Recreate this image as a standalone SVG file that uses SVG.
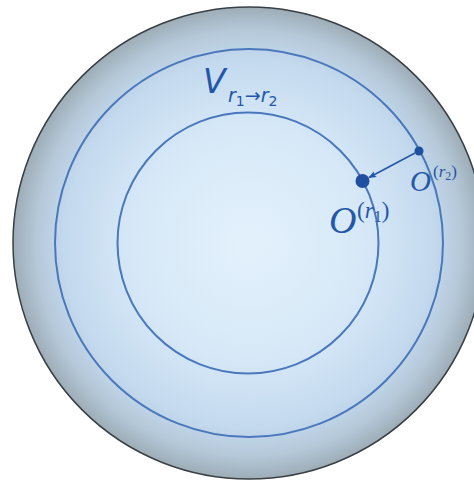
<svg xmlns="http://www.w3.org/2000/svg" width="474" height="480" viewBox="0 0 474 480">
<defs>
<radialGradient id="sph" gradientUnits="userSpaceOnUse" cx="249" cy="243" r="237">
<stop offset="0" stop-color="#e3f1fc"/>
<stop offset="0.5" stop-color="#d6e8f7"/>
<stop offset="0.78" stop-color="#c3d9ee"/>
<stop offset="0.9" stop-color="#b5c8d8"/>
<stop offset="1" stop-color="#9cacb6"/>
</radialGradient>
<marker id="ah" viewBox="0 0 10 10" refX="9" refY="5" markerWidth="9" markerHeight="8" orient="auto" markerUnits="userSpaceOnUse">
<path d="M0,1 L10,5 L0,9 L2,5 z" fill="#2457a8"/>
</marker>
<style>
.ring{fill:none;stroke:#4a78bd;stroke-width:2}
.lbl{fill:#2457a8}
.m{font-family:"Liberation Serif",serif;font-style:italic}
.s{font-family:"DejaVu Sans",sans-serif}
</style>
</defs>
<rect width="474" height="480" fill="#ffffff"/>
<g id="sphere">
<circle cx="249" cy="243" r="236" fill="url(#sph)" stroke="#3a3f44" stroke-width="1.5"/>
</g>
<g id="middle">
<circle class="ring" cx="249" cy="243" r="194"/>
</g>
<g id="inner">
<circle class="ring" cx="248" cy="243" r="130.5"/>
</g>
<g id="connectors">
<line x1="415" y1="153" x2="369" y2="177.5" stroke="#2457a8" stroke-width="1.5" marker-end="url(#ah)"/>
</g>
<g id="O2">
<circle cx="419" cy="151" r="4.5" fill="#1f4f9f"/>
<text class="lbl m" x="410" y="191" font-size="29">O</text>
<text class="lbl" x="433" y="177" font-size="17" font-family="Liberation Serif, serif">(<tspan font-style="italic">r</tspan><tspan font-size="12" dy="3">2</tspan><tspan dy="-3">)</tspan></text>
</g>
<g id="O1">
<circle cx="362.5" cy="181" r="7" fill="#1f4f9f"/>
<text class="lbl m" x="329" y="233" font-size="38">O</text>
<text class="lbl" x="357" y="218" font-size="23" font-family="Liberation Serif, serif">(<tspan font-style="italic">r</tspan><tspan font-size="16" dy="4">1</tspan><tspan dy="-4">)</tspan></text>
</g>
<g id="V">
<text class="lbl s" x="203" y="93" font-size="33" font-style="italic">V</text>
<text class="lbl s" x="228" y="102" font-size="19" font-style="italic">r<tspan font-style="normal" font-size="14" dy="4">1</tspan><tspan font-style="normal" dy="-4">→</tspan>r<tspan font-style="normal" font-size="14" dy="4">2</tspan></text>
</g>
</svg>
